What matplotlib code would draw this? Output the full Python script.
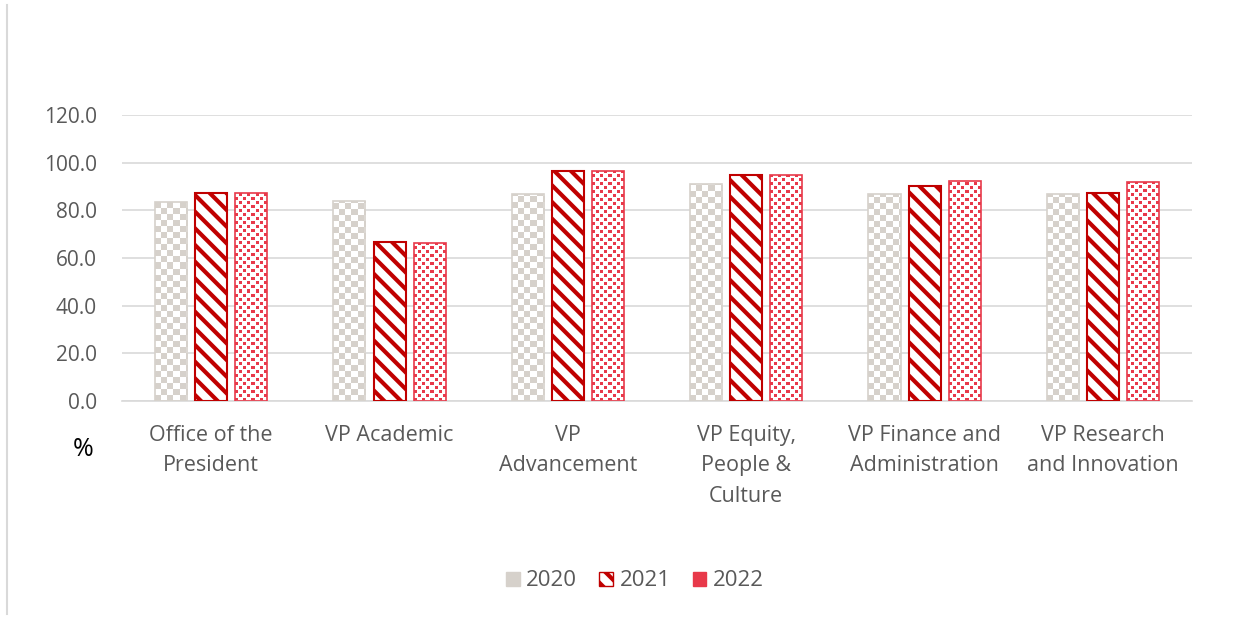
import numpy as np
import matplotlib
matplotlib.use('Agg')
import matplotlib.pyplot as plt
from matplotlib.colors import ListedColormap
from matplotlib.patches import Patch
from matplotlib.lines import Line2D

categories = ['Office of the\nPresident', 'VP Academic', 'VP\nAdvancement',
              'VP Equity,\nPeople &\nCulture', 'VP Finance and\nAdministration',
              'VP Research\nand Innovation']
years = ['2020', '2021', '2022']
v2020 = [83.6, 83.8, 86.9, 91.0, 86.8, 86.8]
v2021 = [87.4, 66.9, 96.5, 94.8, 90.2, 87.3]
v2022 = [87.3, 66.2, 96.5, 94.8, 92.3, 91.9]
yticks = [0, 20, 40, 60, 80, 100, 120]

grey = '#d6d1cb'
dark_red = '#c00000'
red = '#e8394a'
txt = '#595959'

plt.rcParams['font.family'] = ['Open Sans', 'DejaVu Sans']
plt.rcParams['hatch.linewidth'] = 3.0

fig = plt.figure(figsize=(12.53, 6.19), dpi=100)
ax = fig.add_axes([0.0974, 0.352, 0.854, 0.462])
ax.set_xlim(-0.5, len(categories) - 0.5)
ax.set_ylim(0, 120)

x = np.arange(len(categories))
w = 0.18
off = 0.225

b20 = ax.bar(x - off, v2020, w, facecolor='none', edgecolor=grey, lw=1.2, zorder=3)
b21 = ax.bar(x, v2021, w, facecolor='white', edgecolor=dark_red, hatch='\\\\',
             lw=1.5, zorder=3)
b22 = ax.bar(x + off, v2022, w, facecolor='none', edgecolor=red, lw=1.2, zorder=3)

# pixels per data unit
p0 = ax.transData.transform((0, 0))
p1 = ax.transData.transform((1, 1))
ppx, ppy = p1 - p0

checker = np.array([[1, 0], [0, 1]])
dots = np.zeros((8, 8))
dots[0:3, 0:3] = 1
dots[4:7, 4:7] = 1


def texture(bars, tile, px, color):
    cmap = ListedColormap(['white', color])
    for bar in bars:
        x0, bw, bh = bar.get_x(), bar.get_width(), bar.get_height()
        nx = int(np.ceil(bw * ppx / px)) + 1
        ny = int(np.ceil(bh * ppy / px)) + 1
        ry = int(np.ceil(ny / tile.shape[0]))
        rx = int(np.ceil(nx / tile.shape[1]))
        arr = np.tile(tile, (ry, rx))[:ny, :nx]
        im = ax.imshow(arr, extent=(x0, x0 + nx * px / ppx, 0, ny * px / ppy),
                       origin='lower', interpolation='nearest', cmap=cmap,
                       vmin=0, vmax=1, aspect='auto', zorder=2)
        im.set_clip_path(bar)


texture(b20, checker, 6.0, grey)
texture(b22, dots, 1.0, red)

ax.set_xlim(-0.5, len(categories) - 0.5)
ax.set_ylim(0, 120)
ax.set_yticks(yticks)
ax.set_yticklabels([f'{t:.1f}' for t in yticks], fontsize=15, color=txt)
ax.set_xticks(x)
ax.set_xticklabels(categories, fontsize=15.5, color=txt, linespacing=1.6)
ax.tick_params(length=0, pad=17)
ax.tick_params(axis='y', pad=18)
ax.grid(axis='y', color='#d9d9d9', lw=1.2, zorder=0)
ax.set_axisbelow(True)
for s in ['top', 'right', 'left']:
    ax.spines[s].set_visible(False)
ax.spines['bottom'].set_color('#d9d9d9')
ax.spines['bottom'].set_linewidth(1.2)

fig.text(83 / 1253, 1 - 450 / 619, '%', fontsize=18, color='black',
         ha='center', va='center')

handles = [Patch(facecolor=grey, edgecolor=grey),
           Patch(facecolor='white', edgecolor=dark_red, hatch='\\\\'),
           Patch(facecolor=red, edgecolor=red)]
fig.legend(handles, years, loc='center', bbox_to_anchor=(635 / 1253, 1 - 581 / 619),
           ncol=3, frameon=False, fontsize=16, labelcolor=txt,
           handlelength=0.6, handleheight=0.6, handletextpad=0.3, columnspacing=1.0)

fig.add_artist(Line2D([7 / 1253, 7 / 1253], [0.008, 0.992], color='#d9d9d9', lw=1.5))

fig.savefig('out.png', dpi=100)
